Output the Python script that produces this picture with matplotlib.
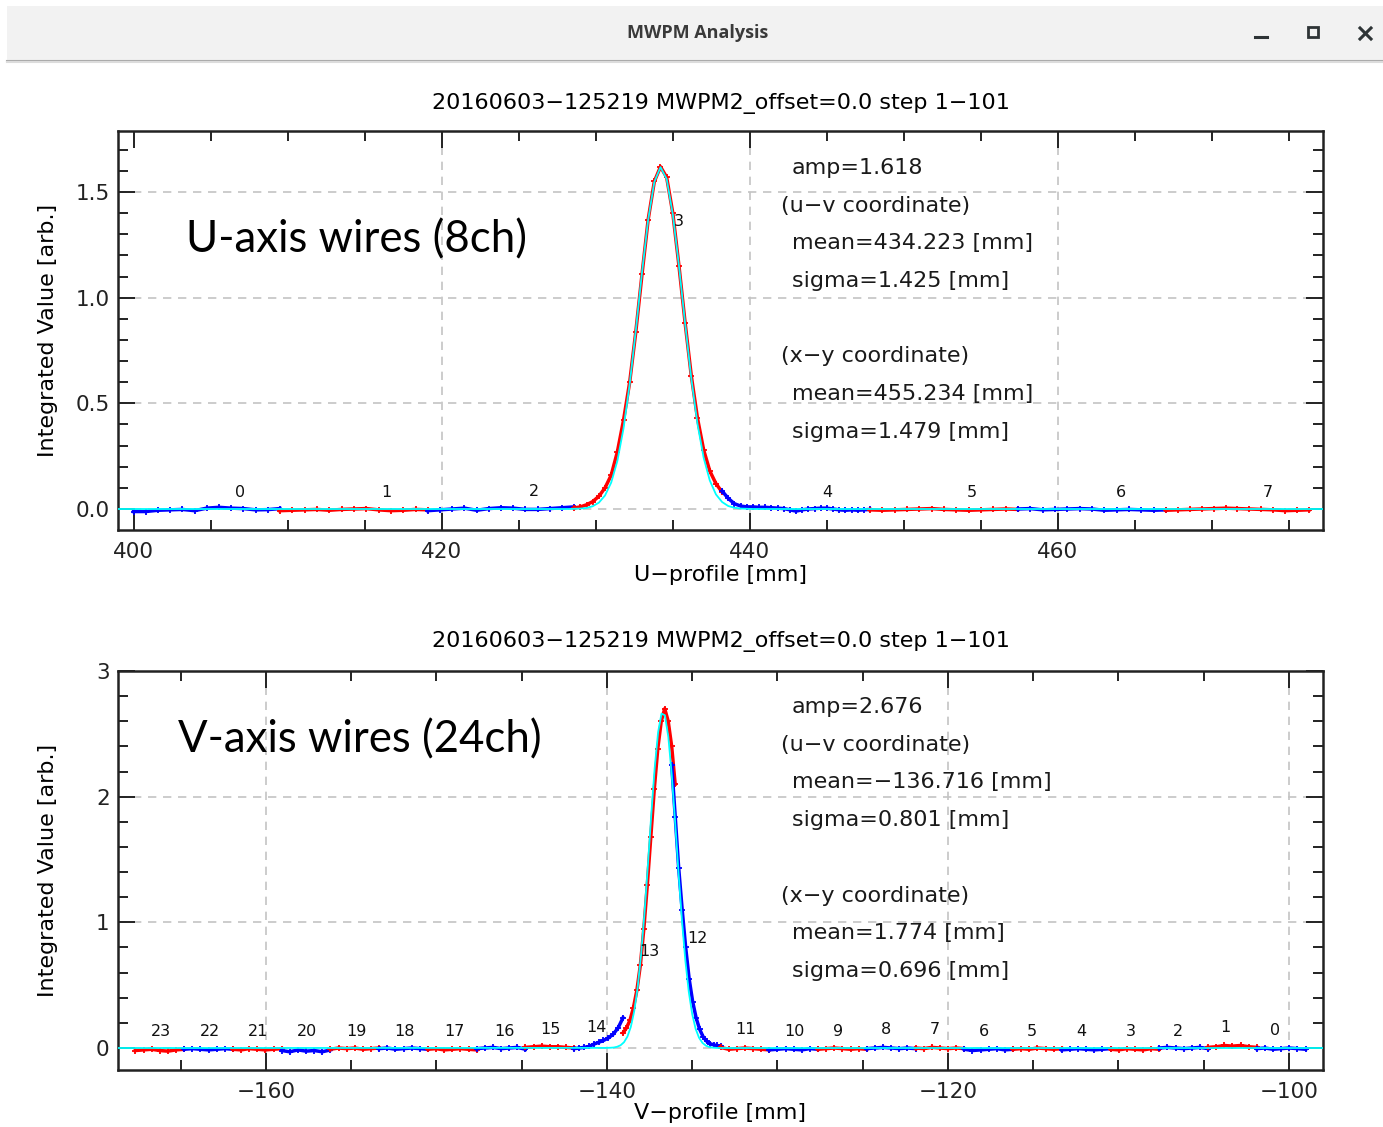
import matplotlib
matplotlib.use('Agg')
import matplotlib.pyplot as plt
from matplotlib.patches import Rectangle
from matplotlib.lines import Line2D
from matplotlib.ticker import MultipleLocator
import numpy as np

figW, figH = 1383, 1127
plt.rcParams['font.family'] = ['DejaVu Sans']

runTitle = '20160603−125219 MWPM2_offset=0.0 step 1−101'

# ---- U-profile: 8 wires (even = blue, odd = red) ----
uChannels = [0, 1, 2, 3, 4, 5, 6, 7]
uChStart = [400.0, 409.5, 419.1, 428.6, 438.2, 447.8, 457.4, 467.0]
uChEnd = [409.5, 419.1, 428.6, 438.2, 447.8, 457.4, 467.0, 476.3]
uChValues = [
    [-0.012, -0.012, -0.006, -0.004, -0.002, -0.008, 0.004, 0.008, 0.004, 0.002, -0.004, -0.003, 0.002],
    [-0.008, -0.006, -0.004, -0.002, -0.006, -0.002, 0.000, 0.002, -0.004, -0.008, -0.006, -0.002, -0.004],
    [-0.008, -0.004, 0.000, 0.004, -0.006, 0.002, 0.006, 0.004, -0.002, -0.002, 0.002, 0.006, 0.010],
    [0.005, 0.01, 0.02, 0.035, 0.06, 0.10, 0.16, 0.27, 0.42, 0.60, 0.84, 1.11, 1.37,
     1.55, 1.62, 1.57, 1.40, 1.15, 0.88, 0.63, 0.43, 0.28, 0.18, 0.12, 0.08],
    [0.085, 0.05, 0.025, 0.014, 0.010, 0.010, 0.008, 0.008, 0.006, 0.004, 0.002, -0.004, -0.010,
     -0.004, 0.000, 0.002, 0.004, 0.004, 0.000, -0.004, -0.006, -0.004, -0.006, -0.004, -0.002],
    [-0.004, -0.006, -0.004, -0.002, 0.000, 0.002, -0.002, -0.004, -0.006, -0.004, -0.002, 0.000, -0.002],
    [0.000, 0.002, -0.004, -0.002, 0.000, 0.002, 0.000, -0.006, -0.004, -0.002, -0.004, -0.006, -0.004],
    [-0.006, -0.004, -0.002, 0.000, 0.002, 0.004, 0.002, 0.000, -0.002, -0.004, -0.008, -0.006, -0.004],
]
uLabelX = [406.9, 416.4, 426.0, 435.4, 445.0, 454.4, 464.1, 473.6]
uLabelY = [0.080, 0.076, 0.085, 1.36, 0.076, 0.076, 0.076, 0.080]

# gaussian fit curve
uFitX = [399.0, 428.2, 428.6, 429.0, 429.4, 429.8, 430.2, 430.6, 431.0, 431.4, 431.8, 432.2,
         432.6, 433.0, 433.4, 433.8, 434.2, 434.6, 435.0, 435.4, 435.8, 436.2, 436.6, 437.0,
         437.4, 437.8, 438.2, 438.6, 439.0, 439.4, 439.8, 440.2, 477.2]
uFitY = [0.0, 0.0, 0.001, 0.002, 0.005, 0.013, 0.030, 0.064, 0.125, 0.227, 0.381, 0.591,
         0.846, 1.119, 1.369, 1.548, 1.618, 1.562, 1.394, 1.150, 0.877, 0.618, 0.403, 0.243,
         0.135, 0.069, 0.033, 0.014, 0.006, 0.002, 0.001, 0.0, 0.0]
uFitText = ['amp=1.618', '(u−v coordinate)', 'mean=434.223 [mm]', 'sigma=1.425 [mm]', '',
            '(x−y coordinate)', 'mean=455.234 [mm]', 'sigma=1.479 [mm]']

# ---- V-profile: 24 wires (even = blue, odd = red) ----
vChannels = [23, 22, 21, 20, 19, 18, 17, 16, 15, 14, 13, 12, 11, 10, 9, 8, 7, 6, 5, 4, 3, 2, 1, 0]
vChStart = [-167.66, -164.80, -161.94, -159.08, -156.22, -153.36, -150.50, -147.64, -144.78,
            -141.92, -139.06, -136.20, -133.34, -130.48, -127.62, -124.76, -121.90, -119.04,
            -116.18, -113.32, -110.46, -107.60, -104.74, -101.88]
vChEnd = [-164.80, -161.94, -159.08, -156.22, -153.36, -150.50, -147.64, -144.78, -141.92,
          -139.06, -136.00, -133.34, -130.48, -127.62, -124.76, -121.90, -119.04, -116.18,
          -113.32, -110.46, -107.60, -104.74, -101.88, -99.02]
vChValues = [
    [-0.02, -0.015, -0.01, -0.02, -0.025, -0.015, -0.01],
    [-0.01, -0.005, -0.01, -0.015, -0.01, -0.005, -0.01],
    [-0.01, -0.015, -0.005, -0.01, -0.015, -0.01, -0.005],
    [-0.02, -0.03, -0.015, -0.025, -0.02, -0.03, -0.015],
    [-0.01, 0.0, -0.005, 0.0, -0.01, -0.005, 0.0],
    [-0.005, 0.0, -0.01, -0.005, 0.0, -0.005, -0.01],
    [-0.01, -0.005, -0.015, -0.01, -0.005, -0.01, -0.015],
    [-0.005, 0.0, 0.005, -0.005, 0.0, 0.005, -0.01],
    [0.005, 0.01, 0.015, 0.01, 0.01, 0.005, 0.0],
    [-0.005, 0.0, 0.005, 0.012, 0.03, 0.045, 0.06, 0.08, 0.11, 0.16, 0.24],
    [0.12, 0.16, 0.22, 0.32, 0.46, 0.66, 0.95, 1.30, 1.68, 2.06, 2.38, 2.60, 2.70, 2.60, 2.40, 2.10],
    [2.25, 1.84, 1.43, 1.10, 0.80, 0.55, 0.37, 0.24, 0.15, 0.09, 0.055, 0.035, 0.025, 0.02, 0.015],
    [0.005, -0.01, -0.005, 0.0, -0.005, -0.01, -0.015],
    [-0.015, -0.01, -0.005, -0.01, -0.015, -0.005, -0.01],
    [-0.01, -0.005, 0.0, -0.005, -0.01, -0.005, -0.01],
    [-0.005, 0.0, 0.005, 0.0, -0.005, 0.0, -0.005],
    [0.0, -0.005, 0.005, 0.0, -0.005, 0.0, -0.005],
    [-0.01, -0.02, -0.015, -0.01, -0.005, -0.015, -0.01],
    [-0.01, -0.005, -0.01, 0.0, -0.005, -0.01, -0.005],
    [-0.015, -0.01, -0.005, -0.01, -0.015, -0.01, -0.005],
    [-0.01, -0.015, -0.005, -0.01, -0.015, -0.005, -0.01],
    [0.0, 0.005, 0.0, -0.005, 0.0, 0.005, -0.005],
    [0.005, 0.01, 0.02, 0.015, 0.02, 0.01, 0.005],
    [-0.005, 0.0, -0.01, -0.005, 0.0, -0.005, -0.01],
]
vLabelX = [-166.16, -163.29, -160.47, -157.6, -154.72, -151.85, -148.97, -146.04, -143.34,
           -140.59, -137.54, -134.72, -131.9, -129.03, -126.45, -123.64, -120.76, -117.89,
           -115.07, -112.2, -109.3, -106.5, -103.7, -100.8]
vLabelY = [0.135, 0.135, 0.135, 0.135, 0.135, 0.135, 0.135, 0.135, 0.15, 0.16, 0.77, 0.87,
           0.15, 0.135, 0.135, 0.15, 0.15, 0.135, 0.135, 0.135, 0.135, 0.135, 0.16, 0.14]

vFitX = [-169.0, -140.0, -139.8, -139.6, -139.4, -139.2, -139.0, -138.8, -138.6, -138.4, -138.2,
         -138.0, -137.8, -137.6, -137.4, -137.2, -137.0, -136.8, -136.6, -136.4, -136.2, -136.0,
         -135.8, -135.6, -135.4, -135.2, -135.0, -134.8, -134.6, -134.4, -134.2, -134.0, -133.8,
         -133.6, -133.4, -98.0]
vFitY = [0.0, 0.001, 0.002, 0.004, 0.010, 0.022, 0.046, 0.091, 0.168, 0.294, 0.481,
         0.740, 1.071, 1.455, 1.858, 2.229, 2.513, 2.661, 2.648, 2.475, 2.175, 1.795,
         1.391, 1.014, 0.694, 0.446, 0.270, 0.153, 0.082, 0.041, 0.019, 0.008, 0.003,
         0.001, 0.0, 0.0]
vFitText = ['amp=2.676', '(u−v coordinate)', 'mean=−136.716 [mm]', 'sigma=0.801 [mm]', '',
            '(x−y coordinate)', 'mean=1.774 [mm]', 'sigma=0.696 [mm]']


def px2fig(x, y):
    return x / figW, 1 - y / figH


def drawTitleBar(fig):
    # grey window decoration like the GNOME title bar
    x0, y0 = px2fig(7, 60)
    fig.add_artist(Rectangle((x0, y0), 1 - x0, 54 / figH, transform=fig.transFigure,
                             facecolor='#f2f2f2', edgecolor='none'))
    for yy, col, lw in [(60.5, '#a9a9a9', 1.5), (62, '#dcdcdc', 1.5)]:
        xa, ya = px2fig(7, yy)
        fig.add_artist(Line2D([xa, 1], [ya, ya], transform=fig.transFigure, color=col, lw=lw))
    tx, ty = px2fig(698, 33)
    fig.text(tx, ty, 'MWPM Analysis', ha='center', va='center', fontsize=13,
             fontweight='bold', color='#3a3a3a', family=['Open Sans', 'DejaVu Sans'])
    iconColor = '#2e3436'
    xa, ya = px2fig(1255, 37)
    xb, yb = px2fig(1267, 37)
    fig.add_artist(Line2D([xa, xb], [ya, yb], transform=fig.transFigure, color=iconColor, lw=2.2))
    sx, sy = px2fig(1308, 37)
    fig.add_artist(Rectangle((sx, sy), 10 / figW, 10 / figH, transform=fig.transFigure,
                             facecolor='none', edgecolor=iconColor, lw=2.0))
    for (xa, ya), (xb, yb) in [((1360, 28), (1371, 39)), ((1360, 39), (1371, 28))]:
        p, q = px2fig(xa, ya), px2fig(xb, yb)
        fig.add_artist(Line2D([p[0], q[0]], [p[1], q[1]], transform=fig.transFigure,
                              color=iconColor, lw=2.2))


def plotProfile(ax, chans, starts, ends, values, labelX, labelY, fitX, fitY):
    for ch, x0, x1, vals in zip(chans, starts, ends, values):
        color = 'blue' if ch % 2 == 0 else 'red'
        xs = np.linspace(x0, x1, len(vals))
        ax.plot(xs, vals, '-', color=color, lw=2.5, marker='+', ms=4, mew=1.3, zorder=3)
    ax.plot(fitX, fitY, '-', color='cyan', lw=1.3, zorder=4)
    for ch, lx, ly in zip(chans, labelX, labelY):
        ax.text(lx, ly, str(ch), ha='center', va='center', fontsize=11.5, color='#111111', zorder=5)


def styleAxes(ax, gridX, gridY, xMinor, yMajor, yMinor):
    for gx in gridX:
        ax.axvline(gx, color='#c4c4c4', ls=(0, (5, 4)), lw=1.2, zorder=1)
    for gy in gridY:
        ax.axhline(gy, color='#c4c4c4', ls=(0, (5, 4)), lw=1.2, zorder=1)
    ax.xaxis.set_major_locator(MultipleLocator(20))
    ax.xaxis.set_minor_locator(MultipleLocator(xMinor))
    ax.yaxis.set_major_locator(MultipleLocator(yMajor))
    ax.yaxis.set_minor_locator(MultipleLocator(yMinor))
    ax.tick_params(which='both', direction='in', top=True, right=True, width=1.4, colors='#222222')
    ax.tick_params(which='major', length=12, labelsize=15.5)
    ax.tick_params(which='minor', length=7)
    ax.tick_params(axis='x', pad=9)
    ax.tick_params(axis='y', pad=6)
    for sp in ax.spines.values():
        sp.set_linewidth(1.8)
        sp.set_color('#222222')


def writeFitText(ax, lines, topPx, axTopPx):
    # one line every ~37.7 px, parenthesised lines start a bit further left
    for i, line in enumerate(lines):
        if not line:
            continue
        xPx = 781 if line.startswith('(') else 792
        yPx = topPx + 37.7 * i
        ax.text((xPx - 118) / 1205, (axTopPx + 399 - yPx) / 399, line, transform=ax.transAxes,
                ha='left', va='center', fontsize=16, color='#1a1a1a', zorder=6)


def main():
    fig = plt.figure(figsize=(figW / 100, figH / 100), dpi=100)
    drawTitleBar(fig)

    axU = fig.add_axes([118 / figW, 1 - 530 / figH, 1205 / figW, 399 / figH])
    plotProfile(axU, uChannels, uChStart, uChEnd, uChValues, uLabelX, uLabelY, uFitX, uFitY)
    styleAxes(axU, [420, 440, 460], [0.0, 0.5, 1.0, 1.5], 5, 0.5, 0.1)
    axU.set_xlim(398.99, 477.2)
    axU.set_ylim(-0.0994, 1.789)
    axU.text(0.5, 1.07, runTitle, transform=axU.transAxes, ha='center', va='center', fontsize=16)
    axU.set_xlabel('U−profile [mm]', fontsize=16, va='center')
    axU.xaxis.set_label_coords(0.5, -0.113)
    axU.set_ylabel('Integrated Value [arb.]', fontsize=16, va='center')
    axU.yaxis.set_label_coords(-0.058, 0.5)
    writeFitText(axU, uFitText, 168, 131)
    axU.text(0.0564, 0.727, 'U-axis wires (8ch)', transform=axU.transAxes, ha='left', va='center',
             fontsize=31.5, family=['Lato', 'DejaVu Sans'], color='black', zorder=6)

    axV = fig.add_axes([118 / figW, 1 - 1070 / figH, 1205 / figW, 399 / figH])
    plotProfile(axV, vChannels, vChStart, vChEnd, vChValues, vLabelX, vLabelY, vFitX, vFitY)
    styleAxes(axV, [-160, -140, -120, -100], [0, 1, 2], 5, 1, 0.2)
    axV.set_xlim(-168.68, -98.0)
    axV.set_ylim(-0.175, 3.0)
    axV.text(0.5, 1.0727, runTitle, transform=axV.transAxes, ha='center', va='center', fontsize=16)
    axV.set_xlabel('V−profile [mm]', fontsize=16, va='center')
    axV.xaxis.set_label_coords(0.5, -0.108)
    axV.set_ylabel('Integrated Value [arb.]', fontsize=16, va='center')
    axV.yaxis.set_label_coords(-0.058, 0.5)
    writeFitText(axV, vFitText, 707, 671)
    axV.text(0.0498, 0.827, 'V-axis wires (24ch)', transform=axV.transAxes, ha='left', va='center',
             fontsize=31.5, family=['Lato', 'DejaVu Sans'], color='black', zorder=6)

    fig.savefig('out.png', dpi=100)


if __name__ == "__main__":
    main()
